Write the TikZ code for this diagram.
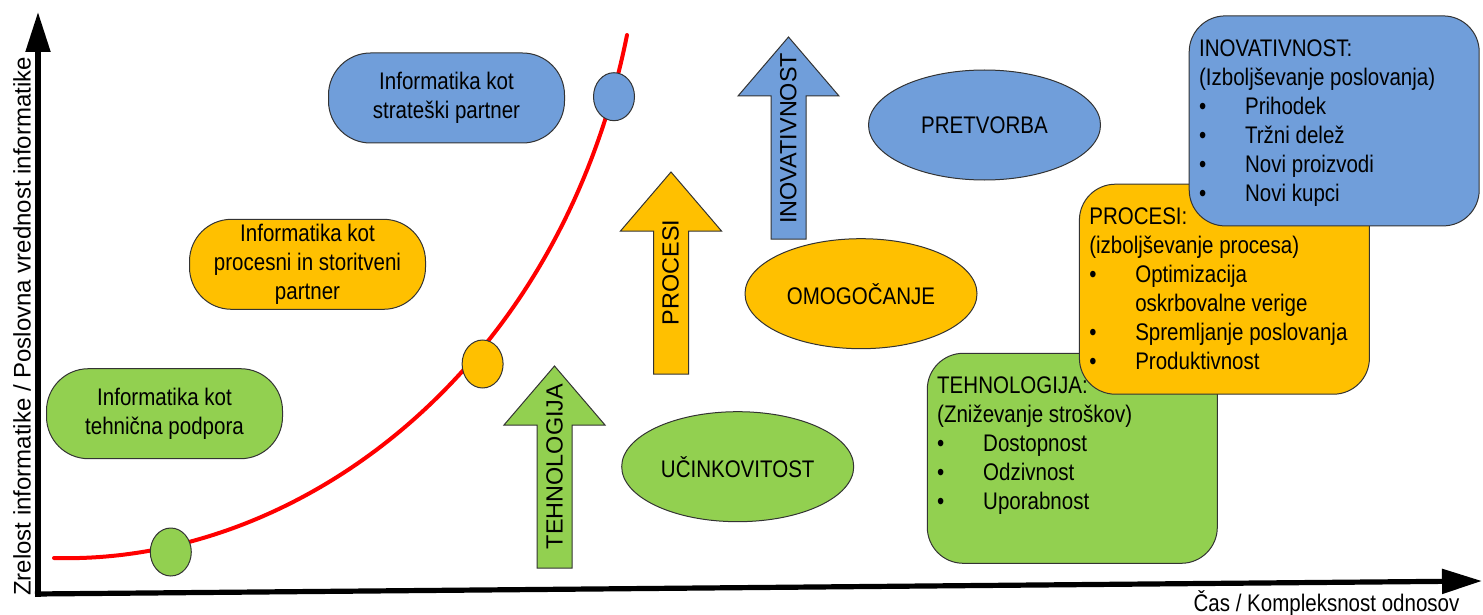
\documentclass[tikz,border=0pt]{standalone}
\usepackage{fontspec}
\setmainfont{Liberation Sans}
\newfontfamily\narrowfont[FakeStretch=0.855]{Liberation Sans}
\usetikzlibrary{shapes}
\usetikzlibrary{arrows.meta}

\definecolor{techgreen}{RGB}{146,208,80}
\definecolor{procorange}{RGB}{255,192,0}
\definecolor{innoblue}{RGB}{112,158,218}

\newcommand\bitem[1]{\makebox[23pt][l]{\textbullet}#1}
\newcommand\bcont[1]{\hspace*{23pt}#1}

\begin{document}
\begin{tikzpicture}[x=0.5pt,y=-0.5pt,>={Triangle[length=20pt,width=12pt]},
  txt/.style={font=\narrowfont\fontsize{12}{14.5}\selectfont},
  outline/.style={draw=black!80,line width=0.5pt},
  rolebox/.style={txt,outline,rectangle,rounded corners=21pt,minimum width=118pt,minimum height=45pt,inner sep=0pt,align=center},
  focusell/.style={txt,outline,ellipse,minimum width=116pt,minimum height=55pt,inner sep=0pt},
  curvedot/.style={outline,ellipse,minimum width=20.5pt,minimum height=24pt,inner sep=0pt},
  listbox/.style={outline,rectangle,rounded corners=18pt,minimum width=145pt,minimum height=105pt,inner sep=0pt},
  listtext/.style={txt,inner sep=0pt,anchor=north west,align=left},
  bigarrow/.style={outline},
  arrowtext/.style={rotate=90,inner sep=0pt,font=\fontsize{11.7}{14}\selectfont}]

  \useasboundingbox (0,0) rectangle (1483,615);

  % axes
  \coordinate (ybase) at (38,597);
  \coordinate (ytip)  at (38,12);
  \coordinate (xbase) at (35,594);
  \coordinate (xtip)  at (1482,581);
  \draw[->,line width=2.6pt] (ybase) -- (ytip);
  \draw[->,line width=2.6pt] (xbase) -- (xtip);
  \node[rotate=90,inner sep=0pt,font=\fontsize{12}{14}\selectfont] (ylabel) at (22,326.5)
    {Zrelost informatike / Poslovna vrednost informatike};
  \node[txt,inner sep=0pt] (xlabel) at (1326.5,603) {Čas / Kompleksnost odnosov};

  % maturity curve
  \coordinate (curvestart) at (54,558);
  \coordinate (curveend) at (627,35);
  \draw[red,line width=2pt,line cap=round] (curvestart) .. controls (300,565) and (560,370) .. (curveend);
  \node[curvedot,fill=techgreen]  (dottech) at (170.8,552) {};
  \node[curvedot,fill=procorange] (dotproc) at (482.6,364) {};
  \node[curvedot,fill=innoblue]   (dotinno) at (614,96.7) {};

  % roles
  \node[rolebox,fill=techgreen]  (techsupport)  at (164.5,413.7) {Informatika kot\\tehnična podpora};
  \node[rolebox,fill=procorange] (procpartner)  at (307.5,264.3) {Informatika kot\\procesni in storitveni\\partner};
  \node[rolebox,fill=innoblue]   (stratpartner) at (446.5,98)    {Informatika kot\\strateški partner};

  % arrows
  \draw[bigarrow,fill=techgreen] (537,568) -- (537,425) -- (504,425) -- (554.5,366)
    -- (605,425) -- (572,425) -- (572,568) -- cycle;
  \draw[bigarrow,fill=procorange] (653.5,374) -- (653.5,231) -- (620.5,231) -- (671,172)
    -- (721.5,231) -- (688.5,231) -- (688.5,374) -- cycle;
  \draw[bigarrow,fill=innoblue] (771,239) -- (771,96) -- (738,96) -- (788.5,37)
    -- (839,96) -- (806,96) -- (806,239) -- cycle;
  \node[arrowtext] (techarrow) at (554.5,466.5) {TEHNOLOGIJA};
  \node[arrowtext] (procarrow) at (670.5,272.5) {PROCESI};
  \node[arrowtext] (innoarrow) at (788.3,138.3) {INOVATIVNOST};

  % goals
  \node[focusell,fill=techgreen]  (ucink) at (737.7,466.7) {UČINKOVITOST};
  \node[focusell,fill=procorange] (omog)  at (861,293.7)   {OMOGOČANJE};
  \node[focusell,fill=innoblue]   (pretv) at (984.5,125)   {PRETVORBA};

  % lists
  \node[listbox,fill=techgreen] (techbox) at (1072.3,458.3) {};
  \node[listtext] (techtext) at ([shift={(10,24)}]techbox.north west)
    {TEHNOLOGIJA:\\(Zniževanje stroškov)\\\bitem{Dostopnost}\\\bitem{Odzivnost}\\\bitem{Uporabnost}};
  \node[listbox,fill=procorange] (procbox) at (1224.4,289.2) {};
  \node[listtext] (proctext) at ([shift={(10,24)}]procbox.north west)
    {PROCESI:\\(izboljševanje procesa)\\\bitem{Optimizacija}\\\bcont{oskrbovalne verige}\\\bitem{Spremljanje poslovanja}\\\bitem{Produktivnost}};
  \node[listbox,fill=innoblue] (innobox) at (1334.2,120.9) {};
  \node[listtext] (innotext) at ([shift={(10,24)}]innobox.north west)
    {INOVATIVNOST:\\(Izboljševanje poslovanja)\\\bitem{Prihodek}\\\bitem{Tržni delež}\\\bitem{Novi proizvodi}\\\bitem{Novi kupci}};

\end{tikzpicture}
\end{document}
